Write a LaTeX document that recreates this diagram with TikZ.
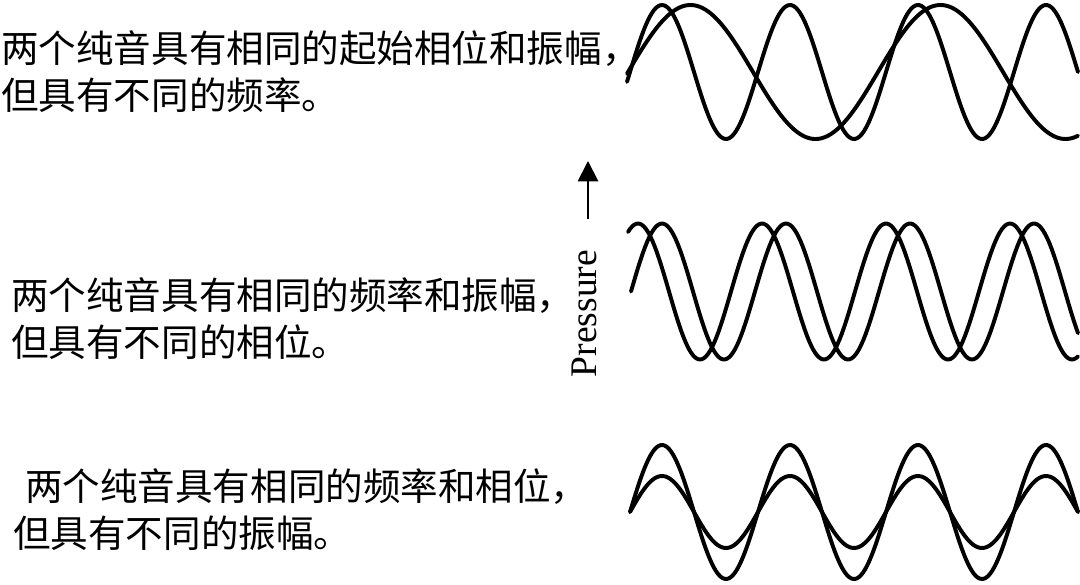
\documentclass[tikz,border=0pt]{standalone}
\usepackage{fontspec}
\setmainfont{Liberation Serif}
\newfontfamily\cjk{Noto Sans CJK SC}
\usetikzlibrary{arrows.meta}

\tikzset{
  wave/.style={line width=2.8pt, line join=round, line cap=round},
  desc/.style={anchor=west, align=left, inner sep=0pt, font=\cjk\fontsize{26.7}{33.4}\selectfont},
  axisname/.style={rotate=90, inner sep=0pt, font=\fontsize{26.7}{30}\selectfont},
}

\begin{document}
\begin{tikzpicture}[x=0.025cm, y=-0.025cm]
  \useasboundingbox (0,0) rectangle (1080,585);
  \draw
    (1,72) node[desc] (freq){两个纯音具有相同的起始相位和振幅，\\但具有不同的频率。}
    (11,318.5) node[desc] (phase){两个纯音具有相同的频率和振幅，\\但具有不同的相位。}
    (13,509.5) node[desc] (amp){\hspace*{8.5pt}两个纯音具有相同的频率和相位，\\但具有不同的振幅。}
    (584,313.5) node[axisname] (pressure){Pressure};
  \coordinate (ptail) at (588,219);
  \coordinate (phead) at (588,161);
  \draw[line width=1.4pt, -{Triangle[length=14.5pt, width=14.5pt]}] (ptail) -- (phead);
  % different frequency
  \begin{scope}[wave]
    \draw plot[domain=627:1078, samples=220] (\x, {72-67*sin(2.8125*(\x-630))});
    \draw plot[domain=627:1078, samples=220] (\x, {72-67*sin(1.44*(\x-628))});
  \end{scope}
  % different phase
  \begin{scope}[wave]
    \draw plot[domain=628:1078, samples=220] (\x, {291.5-68*sin(2.9032*(\x-607))});
    \draw plot[domain=631:1078, samples=220] (\x, {291.5-68*sin(2.9032*(\x-631))});
  \end{scope}
  % different amplitude
  \begin{scope}[wave]
    \draw plot[domain=630:1078, samples=220] (\x, {512-67*sin(2.8125*(\x-630))});
    \draw plot[domain=630:1078, samples=220] (\x, {512-36*sin(2.8125*(\x-630))});
  \end{scope}
\end{tikzpicture}
\end{document}
